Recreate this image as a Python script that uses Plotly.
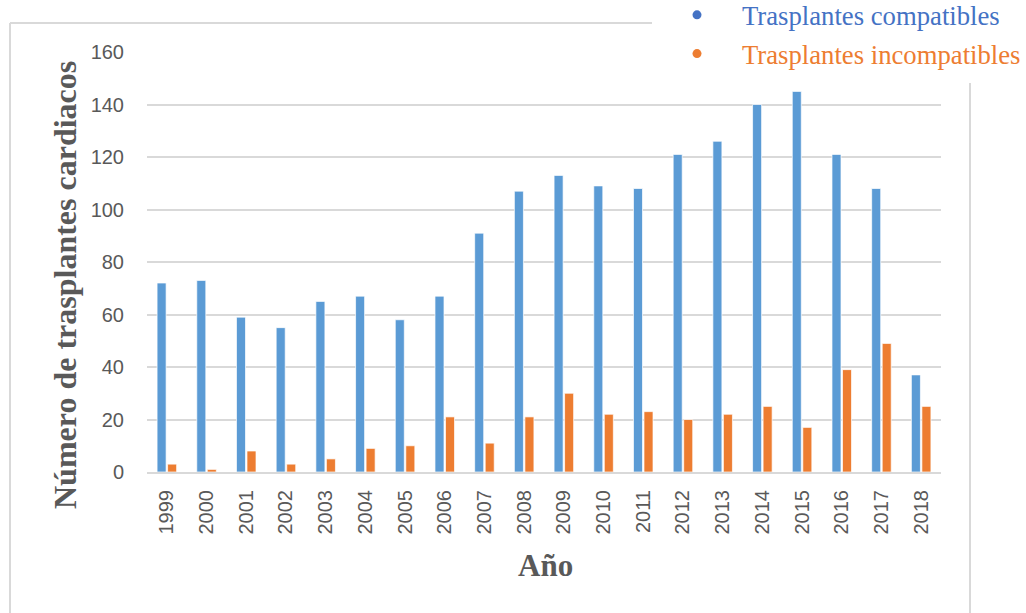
import plotly.graph_objects as go

# Heart transplants per year in Spain, by donor/recipient compatibility
years = ["1999", "2000", "2001", "2002", "2003", "2004", "2005", "2006", "2007", "2008",
         "2009", "2010", "2011", "2012", "2013", "2014", "2015", "2016", "2017", "2018"]
compatibles = [72, 73, 59, 55, 65, 67, 58, 67, 91, 107,
               113, 109, 108, 121, 126, 140, 145, 121, 108, 37]
incompatibles = [3, 1, 8, 3, 5, 9, 10, 21, 11, 21,
                 30, 22, 23, 20, 22, 25, 17, 39, 49, 25]

y_ticks = [0, 20, 40, 60, 80, 100, 120, 140, 160]

W, H = 1026, 613
L, R, T, B = 147, 85, 52, 141
PW, PH = W - L - R, H - T - B

BAR_BLUE = "#5B9BD5"
BAR_ORANGE = "#ED7D31"
LEG_BLUE = "#4472C4"
LEG_ORANGE = "#ED7D31"
GRID = "#D9D9D9"
TEXT = "#595959"


def px_x(px):
    return (px - L) / PW


def px_y(py):
    return (H - B - py) / PH


fig = go.Figure()
fig.add_trace(go.Bar(x=years, y=compatibles, marker=dict(color=BAR_BLUE, line=dict(color="rgba(255,255,255,0.7)", width=1)),
                     showlegend=False))
fig.add_trace(go.Bar(x=years, y=incompatibles, marker=dict(color=BAR_ORANGE, line=dict(color="rgba(255,255,255,0.7)", width=1)),
                     showlegend=False))

# legend entries shown as dots with coloured labels
fig.add_trace(go.Scatter(x=[None], y=[None], mode="markers", legendgroup="a",
                         marker=dict(color=LEG_BLUE, size=9),
                         name=f'<span style="color:{LEG_BLUE}">Trasplantes compatibles</span>'))
fig.add_trace(go.Scatter(x=[None], y=[None], mode="markers", legendgroup="b",
                         marker=dict(color=LEG_ORANGE, size=9),
                         name=f'<span style="color:{LEG_ORANGE}">Trasplantes incompatibles</span>'))

fig.update_layout(
    width=W, height=H,
    margin=dict(l=L, r=R, t=T, b=B, pad=0, autoexpand=False),
    paper_bgcolor="white", plot_bgcolor="white",
    barmode="group", bargap=0.47, bargroupgap=0.14,
    font=dict(family="Liberation Sans", color=TEXT, size=20),
    legend=dict(
        xref="paper", yref="paper",
        x=px_x(652), y=px_y(-9), xanchor="left", yanchor="top",
        bgcolor="white", borderwidth=0,
        font=dict(family="Liberation Serif", size=26.7),
        itemwidth=80, traceorder="grouped", tracegroupgap=1,
    ),
    xaxis=dict(
        type="category", showgrid=False, showline=True, linecolor=GRID, linewidth=2,
        tickangle=-90, ticks="", ticklabelstandoff=8,
        tickfont=dict(family="Liberation Sans", size=20, color=TEXT),
    ),
    yaxis=dict(
        range=[0, 160], tickvals=y_ticks, showgrid=True, gridcolor=GRID, gridwidth=1.5,
        zeroline=False, showline=False, ticks="", ticklabelstandoff=22,
        tickfont=dict(family="Liberation Sans", size=20, color=TEXT),
    ),
    shapes=[
        # chart-area frame
        dict(type="line", xref="paper", yref="paper", x0=px_x(10), x1=px_x(10), y0=px_y(23), y1=px_y(620),
             line=dict(color=GRID, width=2)),
        dict(type="line", xref="paper", yref="paper", x0=px_x(10), x1=px_x(700), y0=px_y(23), y1=px_y(23),
             line=dict(color=GRID, width=2)),
        dict(type="line", xref="paper", yref="paper", x0=px_x(970), x1=px_x(970), y0=px_y(83), y1=px_y(620),
             line=dict(color=GRID, width=2)),
    ],
    annotations=[
        dict(text="<b>Número de trasplantes cardiacos</b>", xref="paper", yref="paper",
             x=px_x(65), y=px_y(285), xanchor="center", yanchor="middle",
             textangle=-90, showarrow=False,
             font=dict(family="Liberation Serif", size=32, color=TEXT)),
        dict(text="<b>Año</b>", xref="paper", yref="paper",
             x=px_x(545), y=px_y(565), xanchor="center", yanchor="middle", showarrow=False,
             font=dict(family="Liberation Serif", size=31, color=TEXT)),
    ],
)

fig.write_html("out.html")
